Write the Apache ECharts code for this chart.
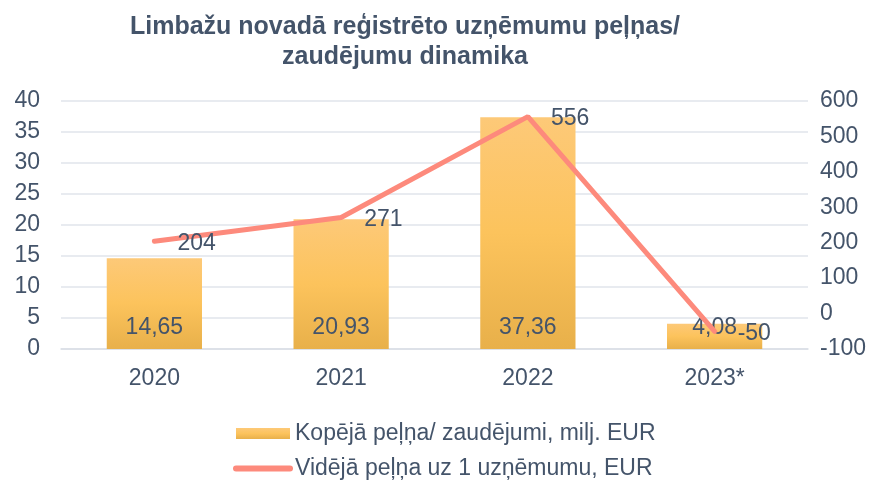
<!DOCTYPE html>
<html><head><meta charset="utf-8">
<script src="https://cdn.jsdelivr.net/npm/echarts@6/dist/echarts.min.js"></script>
<style>html,body{margin:0;padding:0;background:#fff}#c{width:878px;height:487px}</style>
</head><body><div id="c"></div>
<script>
const categories = ['2020', '2021', '2022', '2023*'];
const totalProfit = [14.65, 20.93, 37.36, 4.08];
const avgProfit = [204, 271, 556, -50];
const leftTicks = [0, 40, 5];
const rightTicks = [-100, 600, 100];
const txt = '#44546a';
const font = '"Liberation Sans", Arial, sans-serif';
const fs = 23;
const chart = echarts.init(document.getElementById('c'));
chart.setOption({
  animation: false,
  title: {
    text: 'Limbažu novadā reģistrēto uzņēmumu peļņas/\nzaudējumu dinamika',
    left: 400, top: 7, textAlign: 'center',
    textStyle: {fontFamily: font, fontSize: 25, fontWeight: 'bold', color: txt, lineHeight: 30}
  },
  grid: {left: 61, right: 70, top: 101, bottom: 138},
  legend: {
    orient: 'vertical', left: 228, top: 417, itemGap: 12, itemWidth: 54, itemHeight: 11,
    textStyle: {fontFamily: font, fontSize: fs, color: txt},
    data: [
      {name: 'Kopējā peļņa/ zaudējumi, milj. EUR', icon: 'rect'},
      {name: 'Vidējā peļņa uz 1 uzņēmumu, EUR', itemStyle: {opacity: 0}, lineStyle: {width: 6, cap: 'round'}}
    ]
  },
  xAxis: {
    type: 'category', data: categories,
    axisLine: {show: true, lineStyle: {color: '#d9dee5', width: 1.5}},
    axisTick: {show: false},
    axisLabel: {fontFamily: font, fontSize: fs, color: txt, margin: 18}
  },
  yAxis: [
    {type: 'value', min: leftTicks[0], max: leftTicks[1], interval: leftTicks[2],
     axisLine: {show: false}, axisTick: {show: false},
     axisLabel: {fontFamily: font, fontSize: fs, color: txt, margin: 21},
     splitLine: {lineStyle: {color: '#e1e5eb', width: 1.5}}},
    {type: 'value', min: rightTicks[0], max: rightTicks[1], interval: rightTicks[2],
     alignTicks: false,
     axisLine: {show: false}, axisTick: {show: false},
     axisLabel: {fontFamily: font, fontSize: fs, color: txt, margin: 12},
     splitLine: {show: false}}
  ],
  series: [
    {
      name: 'Kopējā peļņa/ zaudējumi, milj. EUR', type: 'bar', yAxisIndex: 0,
      data: totalProfit, barWidth: '51%',
      itemStyle: {color: new echarts.graphic.LinearGradient(0, 0, 0, 1, [
        {offset: 0, color: '#fdc978'}, {offset: 0.5, color: '#fcc35c'}, {offset: 1, color: '#e8b04a'}])},
      label: {show: true, position: 'insideBottom', distance: 10, fontFamily: font, fontSize: fs, color: txt,
        formatter: p => String(p.value).replace('.', ',')}
    },
    {
      name: 'Vidējā peļņa uz 1 uzņēmumu, EUR', type: 'line', yAxisIndex: 1,
      data: avgProfit, symbol: 'none', lineStyle: {color: '#fd8a7c', width: 5, cap: 'round'},
      itemStyle: {color: '#fd8a7c'}, z: 3
    },
    {
      name: 'labels', type: 'scatter', yAxisIndex: 1, data: avgProfit, symbolSize: 0, z: 5,
      itemStyle: {opacity: 1}, silent: true,
      label: {show: true, position: 'right', distance: 23, fontFamily: font, fontSize: fs, color: txt, opacity: 1, offset: [0, 2]}
    }
  ]
});
</script></body></html>
